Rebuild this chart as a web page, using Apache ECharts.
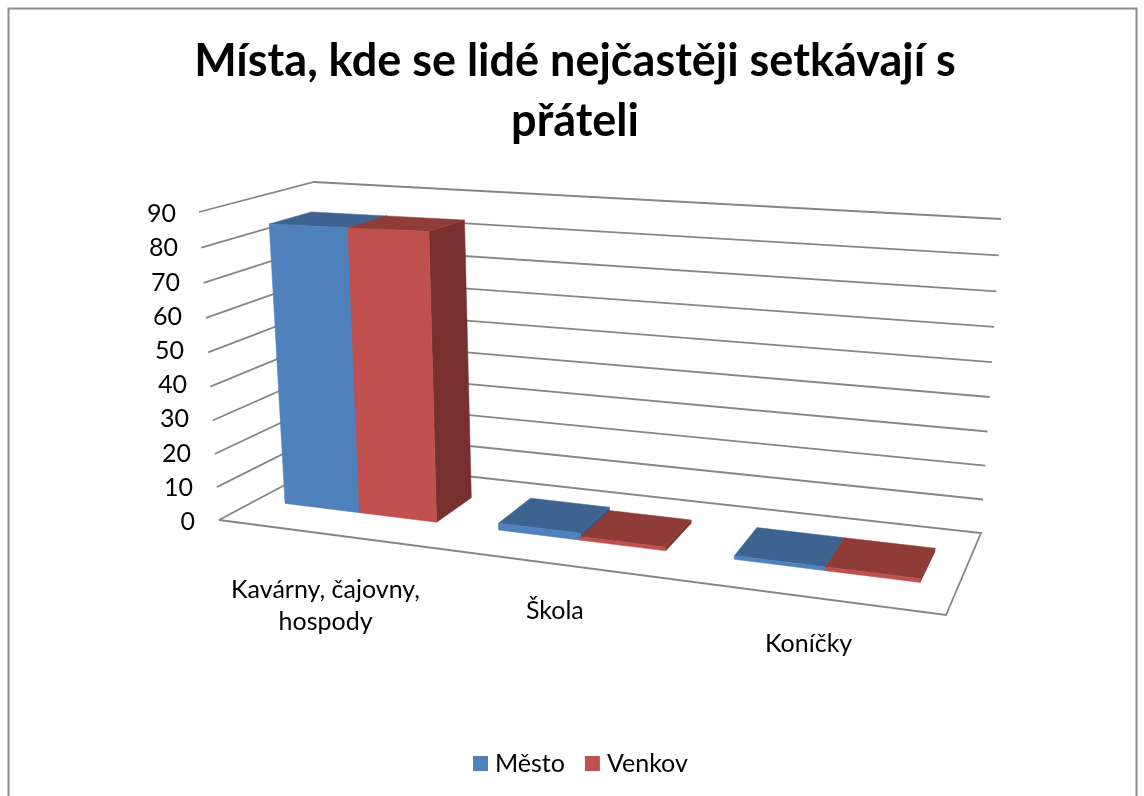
<!DOCTYPE html>
<html><head><meta charset="utf-8">
<style>html,body{margin:0;padding:0;background:#fff}#c{width:1144px;height:796px}</style>
<script src="https://cdn.jsdelivr.net/npm/echarts@6/dist/echarts.min.js"></script>
</head><body><div id="c"></div>
<script>
const chartTitle = 'Místa, kde se lidé nejčastěji setkávají s\npřáteli';
const categories = ['Kavárny, čajovny,\nhospody', 'Škola', 'Koníčky'];
const mesto = [84, 2, 1];
const venkov = [84, 1, 1];
const yTicks = [0, 10, 20, 30, 40, 50, 60, 70, 80, 90];

const FONT = 'Lato';
// scene corners of the 3D box as photographed: [front/back][bottom/top][left/right]
const box = {
  fbl:[219,520], fbr:[946,615], bbr:[981,533], bbl:[330,461],
  ftl:[199,212], ftr:[969,240], btr:[1001,219], btl:[314,182]
};
const warp = (t,k) => t/(1+k*(1-t));
function project(u,v,w){
  const a=warp(u,0.165), b=warp(v,0.047), c=w;
  const out=[0,1].map(i=>
    (1-a)*(1-b)*(1-c)*box.fbl[i] + a*(1-b)*(1-c)*box.fbr[i] +
    a*(1-b)*c*box.bbr[i] + (1-a)*(1-b)*c*box.bbl[i] +
    (1-a)*b*(1-c)*box.ftl[i] + a*b*(1-c)*box.ftr[i] +
    a*b*c*box.btr[i] + (1-a)*b*c*box.btl[i]);
  return out;
}
const norm = (params,pt) => {
  const g=params.coordSys;
  return [(pt[0]-g.x)/g.width, (g.y+g.height-pt[1])/g.height];
};
const DEPTH_FRONT=0.34, DEPTH_BACK=0.72, BAR_SHARE=0.36;

function barRenderer(seriesIndex, colors){
  return function(params, api){
    const p=api.coord([api.value(0),api.value(1)]);
    const band=api.size([1,0])[0];
    const g=params.coordSys;
    const [uc,v]=norm(params,p);
    const bw=band*BAR_SHARE/g.width;
    const u0=uc+(seriesIndex-1)*bw, u1=u0+bw;
    const q=(u,val,w)=>project(u,val,w);
    const f=DEPTH_FRONT,b=DEPTH_BACK;
    const poly=(pts,fill)=>({type:'polygon',shape:{points:pts},style:{fill,stroke:fill,lineWidth:0.5}});
    return {type:'group',children:[
      poly([q(u1,0,f),q(u1,0,b),q(u1,v,b),q(u1,v,f)],colors.side),
      poly([q(u0,v,f),q(u1,v,f),q(u1,v,b),q(u0,v,b)],colors.top),
      poly([q(u0,0,f),q(u1,0,f),q(u1,v,f),q(u0,v,f)],colors.front)
    ]};
  };
}
function gridRenderer(params, api){
  const p=api.coord([0,api.value(0)]);
  const v=norm(params,p)[1];
  const st={stroke:'#868686',lineWidth:1.8,fill:null};
  const pts=[project(0,v,0),project(0,v,1),project(1,v,1)];
  if(api.value(0)===0){ pts.push(project(1,0,0),project(0,0,0)); }
  return {type:'polyline',shape:{points:pts},style:st};
}
function labelRenderer(params, api){
  const i=api.value(0);
  const p=api.coord([i,0]);
  const [u]=norm(params,p);
  const edge=project(u,0,0);
  const lines=categories[i].split('\n').length;
  return {type:'text',style:{text:categories[i],x:edge[0],y:edge[1]+47+(lines-1)*25,
    align:'center',verticalAlign:'middle',fill:'#000',font:'25px '+FONT,lineHeight:32}};
}
const rich={};
yTicks.forEach(t=>{rich['t'+t]={padding:[0,Math.round(t/90*19),0,0],fontFamily:FONT,fontSize:25,color:'#000'};});

const chart=echarts.init(document.getElementById('c'),null,{renderer:'canvas'});
chart.setOption({
  animation:false,
  backgroundColor:'#fff',
  title:{text:chartTitle,left:570,top:26,textAlign:'center',
    textStyle:{fontFamily:FONT,fontWeight:'bold',fontSize:45,lineHeight:60,color:'#000'}},
  legend:{data:[{name:'Město',itemStyle:{color:'#4F81BD'}},{name:'Venkov',itemStyle:{color:'#C0504D'}}],
    left:468,top:746,icon:'rect',itemWidth:15,itemHeight:15,itemGap:20,
    textStyle:{fontFamily:FONT,fontSize:25,color:'#000',padding:[0,0,0,2]}},
  grid:{left:195,top:214,width:750,height:308,containLabel:false},
  xAxis:{type:'category',data:categories,show:false},
  yAxis:{type:'value',min:0,max:90,interval:10,
    axisLine:{show:false},axisTick:{show:false},splitLine:{show:false},
    axisLabel:{margin:0,formatter:v=>'{t'+v+'|'+v+'}',rich}},
  graphic:[{type:'polyline',silent:true,shape:{points:[[8.5,796],[8.5,8.5],[1136.5,8.5],[1136.5,796]]},
    style:{stroke:'#8c8c8c',lineWidth:2,fill:null}}],
  series:[
    {type:'custom',name:'gridlines',silent:true,z:1,data:yTicks.map(t=>[t]),encode:{y:0},renderItem:gridRenderer},
    {type:'custom',name:'Město',silent:true,z:2,data:mesto.map((v,i)=>[i,v]),encode:{x:0,y:1},itemStyle:{color:'#4F81BD'},
      renderItem:barRenderer(0,{front:'#4F81BD',top:'#3D6491',side:'#335A89'})},
    {type:'custom',name:'Venkov',silent:true,z:3,data:venkov.map((v,i)=>[i,v]),encode:{x:0,y:1},itemStyle:{color:'#C0504D'},
      renderItem:barRenderer(1,{front:'#C0504D',top:'#8F3C39',side:'#77302E'})},
    {type:'custom',name:'labels',silent:true,z:4,data:categories.map((c,i)=>[i]),encode:{x:0},renderItem:labelRenderer}
  ]
});
</script></body></html>
